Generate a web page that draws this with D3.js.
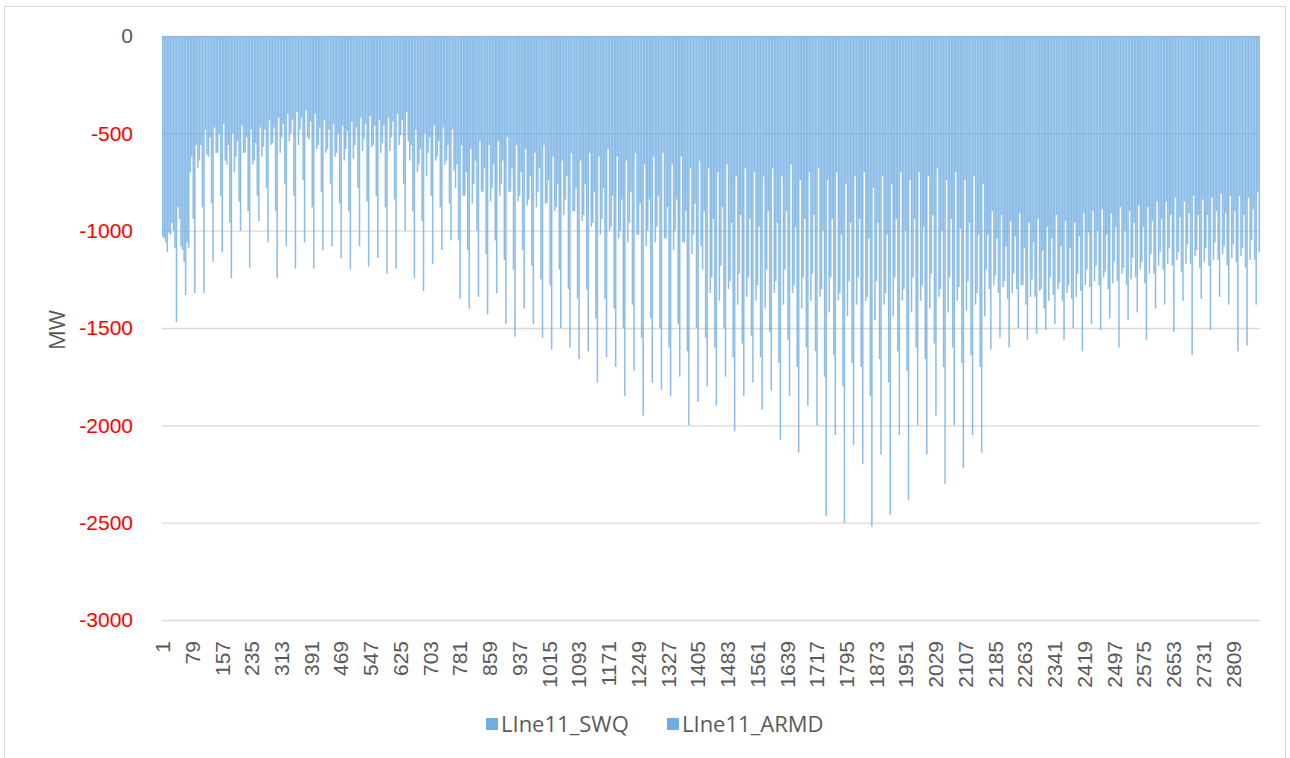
<!DOCTYPE html>
<html>
<head>
<meta charset="utf-8">
<script src="https://cdn.jsdelivr.net/npm/d3@7"></script>
<style>
  body { margin: 0; background: #fff; }
  svg { display: block; font-family: "Open Sans", sans-serif; }
</style>
</head>
<body>
<svg id="chart"></svg>
<script>
// 2880 hourly categories in 8-hour groups (3 per day)
const categoryCount = 2880;
const seriesNames = ['LIne11_SWQ', 'LIne11_ARMD'];
const tickLabels = [1, 79, 157, 235, 313, 391, 469, 547, 625, 703, 781, 859, 937, 1015, 1093, 1171, 1249,
    1327, 1405, 1483, 1561, 1639, 1717, 1795, 1873, 1951, 2029, 2107, 2185, 2263, 2341, 2419, 2497, 2575,
    2653, 2731, 2809];
const yTicks = [0, -500, -1000, -1500, -2000, -2500, -3000];

const swq = [
    -1030, -1060, -1010, -960, -1090, -880, -1080, -1160, -1060, -700, -940, -560,
    -640, -880, -480, -620, -860, -470, -600, -820, -450, -660, -960, -500,
    -620, -850, -460, -600, -900, -480, -640, -820, -470, -570, -780, -430,
    -550, -900, -420, -520, -760, -400, -500, -820, -390, -480, -740, -380,
    -530, -880, -400, -560, -800, -430, -580, -760, -450, -600, -860, -460,
    -580, -900, -440, -560, -780, -420, -530, -850, -410, -560, -820, -430,
    -550, -880, -420, -520, -840, -400, -510, -760, -390, -640, -900, -480,
    -660, -950, -500, -600, -820, -460, -620, -880, -470, -640, -860, -480,
    -780, -1050, -560, -820, -1100, -580, -760, -1000, -540, -800, -1120, -560,
    -780, -1050, -540, -760, -1150, -520, -800, -1200, -560, -820, -1100, -580,
    -840, -1180, -600, -800, -1250, -560, -860, -1280, -620, -880, -1200, -640,
    -840, -1300, -600, -900, -1350, -640, -920, -1300, -600, -960, -1450, -620,
    -940, -1350, -580, -980, -1400, -620, -1000, -1500, -640, -960, -1380, -600,
    -1020, -1550, -660, -1000, -1450, -620, -980, -1500, -600, -1040, -1600, -660,
    -1000, -1480, -620, -1060, -1620, -680, -1020, -1500, -640, -1200, -1550, -680,
    -1240, -1600, -700, -1180, -1500, -660, -1260, -1650, -720, -1220, -1580, -680,
    -1240, -1540, -700, -1280, -1650, -720, -1200, -1520, -680, -1260, -1680, -720,
    -1200, -1560, -660, -1280, -1700, -740, -1240, -1600, -700, -1220, -1620, -680,
    -1300, -1750, -740, -1240, -1640, -700, -1320, -1800, -760, -1260, -1680, -720,
    -1240, -1700, -700, -1340, -1850, -780, -1260, -1660, -720, -1320, -1780, -760,
    -1240, -1620, -700, -1300, -1720, -740, -1240, -1600, -700, -1280, -1660, -720,
    -1220, -1580, -680, -1300, -1700, -740, -1240, -1600, -700, -1290, -1680, -740,
    -1260, -1640, -720, -1320, -1700, -760, -1200, -1300, -900, -1230, -1320, -920,
    -1260, -1350, -950, -1220, -1300, -910, -1280, -1380, -960, -1250, -1340, -940,
    -1300, -1400, -980, -1240, -1330, -920, -1270, -1360, -950, -1280, -1350, -960,
    -1220, -1310, -910, -1200, -1290, -900, -1180, -1280, -890, -1210, -1300, -910,
    -1160, -1260, -880, -1190, -1280, -900, -1140, -1240, -870, -1160, -1270, -880,
    -1120, -1220, -850, -1110, -1200, -850, -1090, -1180, -830, -1110, -1210, -850,
    -1070, -1170, -820, -1100, -1190, -840, -1090, -1180, -830, -1060, -1150, -810,
    -1080, -1180, -820, -1070, -1160, -820, -1090, -1190, -830, -1050, -1150, -800
];

const armd = [
    -1040, -1110, -1020, -1000, -1470, -940, -1100, -1330, -1090, -620, -1320, -680,
    -560, -1320, -610, -520, -1160, -600, -500, -1110, -640, -560, -1245, -700,
    -540, -1000, -600, -520, -1190, -660, -550, -950, -620, -480, -1060, -560,
    -470, -1245, -600, -450, -1080, -540, -430, -1195, -560, -420, -1060, -520,
    -440, -1195, -580, -470, -1100, -600, -480, -1080, -620, -500, -1140, -640,
    -490, -1200, -630, -470, -1080, -590, -450, -1185, -570, -460, -1140, -600,
    -460, -1220, -590, -440, -1195, -560, -430, -1000, -540, -560, -1245, -700,
    -580, -1310, -720, -520, -1170, -640, -540, -1100, -660, -560, -1050, -690,
    -660, -1350, -820, -700, -1400, -860, -640, -1340, -800, -680, -1430, -850,
    -660, -1320, -820, -640, -1480, -800, -680, -1545, -850, -700, -1400, -870,
    -720, -1480, -880, -680, -1550, -860, -740, -1610, -900, -760, -1500, -920,
    -720, -1600, -900, -780, -1660, -950, -760, -1620, -980, -800, -1780, -1020,
    -780, -1650, -1000, -820, -1700, -1040, -840, -1850, -1060, -800, -1720, -1020,
    -860, -1950, -1080, -840, -1780, -1060, -820, -1820, -1040, -880, -1850, -1100,
    -840, -1750, -1060, -900, -2000, -1120, -860, -1880, -1080, -900, -1800, -1320,
    -940, -1900, -1360, -880, -1750, -1300, -960, -2030, -1380, -920, -1850, -1340,
    -940, -1780, -1360, -980, -1920, -1400, -900, -1820, -1320, -960, -2075, -1380,
    -900, -1850, -1320, -980, -2140, -1400, -940, -1900, -1360, -920, -2000, -1340,
    -1000, -2465, -1420, -940, -2050, -1360, -1020, -2500, -1440, -960, -2100, -1380,
    -940, -2200, -1360, -1040, -2520, -1460, -960, -2150, -1380, -1020, -2460, -1440,
    -940, -2050, -1360, -1000, -2385, -1420, -940, -2000, -1360, -980, -2150, -1400,
    -920, -1950, -1340, -1000, -2300, -1420, -940, -2000, -1360, -990, -2220, -1410,
    -960, -2050, -1380, -1020, -2140, -1440, -1020, -1610, -1280, -1040, -1550, -1290,
    -1080, -1600, -1320, -1030, -1500, -1280, -1090, -1560, -1340, -1060, -1530, -1310,
    -1100, -1510, -1360, -1040, -1480, -1300, -1080, -1560, -1320, -1090, -1500, -1340,
    -1030, -1620, -1280, -1010, -1480, -1260, -1000, -1510, -1240, -1020, -1450, -1270,
    -980, -1600, -1220, -1000, -1460, -1250, -960, -1420, -1200, -980, -1560, -1220,
    -950, -1400, -1180, -940, -1380, -1170, -920, -1520, -1150, -930, -1360, -1170,
    -910, -1640, -1130, -920, -1350, -1160, -920, -1510, -1150, -900, -1340, -1120,
    -910, -1380, -1140, -900, -1620, -1130, -920, -1590, -1150, -890, -1380, -1110
];

function getConfig() {
    let width = 1290;
    let height = 758;
    let margin = { top: 36, left: 162, right: 30, bottom: 138 };
    let bodyWidth = width - margin.left - margin.right;
    let bodyHeight = height - margin.top - margin.bottom;
    let container = d3.select('#chart')
        .attr('width', width)
        .attr('height', height);
    return { width, height, margin, bodyWidth, bodyHeight, container };
}

function getScales(config) {
    let { margin, bodyWidth, bodyHeight } = config;

    let xGroup = d3.scaleBand()
        .domain(d3.range(swq.length))
        .range([margin.left, margin.left + bodyWidth]);

    let xSeries = d3.scaleBand()
        .domain(seriesNames)
        .range([0, xGroup.bandwidth()]);

    // category numbers sit in the middle of their hour slot
    let xCat = d3.scaleLinear()
        .domain([0.5, categoryCount + 0.5])
        .range([margin.left, margin.left + bodyWidth]);

    let yScale = d3.scaleLinear()
        .domain([-3000, 0])
        .range([margin.top + bodyHeight, margin.top]);

    return { xGroup, xSeries, xCat, yScale };
}

function drawFrame(config) {
    config.container.append('rect')
        .attr('x', 4.5)
        .attr('y', 6.5)
        .attr('width', 1281)
        .attr('height', 800)
        .attr('fill', '#fff')
        .attr('stroke', '#d9d9d9');
}

function drawGrid(scales, config) {
    let { yScale } = scales;
    let { margin, bodyWidth, container } = config;
    let grid = container.append('g')
        .attr('transform', `translate(${margin.left},0)`)
        .call(d3.axisLeft(yScale).tickValues(yTicks).tickSize(-bodyWidth).tickFormat(''));
    grid.select('.domain').remove();
    grid.selectAll('line').attr('stroke', '#d9d9d9').attr('stroke-width', 1.3);
}

function drawBars(scales, config) {
    let { xGroup, xSeries, yScale } = scales;
    let rows = swq.map((v, i) => ({ group: i, values: [v, armd[i]] }));

    let groups = config.container.append('g')
        .selectAll('.group').data(rows)
        .enter().append('g')
        .attr('class', 'group')
        .attr('transform', d => `translate(${xGroup(d.group)},0)`);

    groups.selectAll('rect')
        .data(d => d.values.map((v, k) => ({ name: seriesNames[k], value: v })))
        .enter().append('rect')
        .attr('x', d => xSeries(d.name))
        .attr('width', xSeries.bandwidth())
        .attr('y', yScale(0))
        .attr('height', d => yScale(d.value) - yScale(0))
        .attr('fill', '#6fade2')
        .attr('fill-opacity', 0.8);
}

function drawAxes(scales, config) {
    let { xCat, yScale } = scales;
    let { margin, height, container } = config;

    let axisY = container.append('g')
        .attr('transform', `translate(${margin.left},0)`)
        .call(d3.axisLeft(yScale).tickValues(yTicks).tickSize(0).tickPadding(29).tickFormat(d => String(d)));
    axisY.select('.domain').remove();
    axisY.selectAll('text')
        .style('font-size', '21px')
        .attr('fill', d => d === 0 ? '#595959' : '#ff0000');

    let axisX = container.append('g')
        .attr('transform', `translate(0,${height - margin.bottom})`)
        .call(d3.axisBottom(xCat).tickValues(tickLabels).tickSize(0).tickFormat(d => String(d)));
    axisX.select('.domain').remove();
    axisX.selectAll('text')
        .style('font-size', '21px')
        .attr('fill', '#595959')
        .attr('transform', 'rotate(-90)')
        .attr('x', -21)
        .attr('y', 0)
        .attr('dy', '0.35em')
        .style('text-anchor', 'end');

    container.append('text')
        .attr('transform', 'translate(65,330) rotate(-90)')
        .attr('text-anchor', 'middle')
        .style('font-size', '22px')
        .attr('fill', '#595959')
        .text('MW');
}

function drawLegend(config) {
    let legend = config.container.append('g')
        .attr('transform', 'translate(486,724)');
    let offsets = [0, 181];
    seriesNames.forEach((name, i) => {
        let item = legend.append('g').attr('transform', `translate(${offsets[i]},0)`);
        item.append('rect')
            .attr('x', 0).attr('y', -6)
            .attr('width', 12).attr('height', 12)
            .attr('fill', '#6fade2');
        item.append('text')
            .attr('x', 15).attr('y', 0)
            .attr('dy', '0.35em')
            .style('font-size', '22px')
            .attr('fill', '#595959')
            .text(name);
    });
}

let config = getConfig();
let scales = getScales(config);
drawFrame(config);
drawGrid(scales, config);
drawBars(scales, config);
drawAxes(scales, config);
drawLegend(config);
</script>
</body>
</html>
